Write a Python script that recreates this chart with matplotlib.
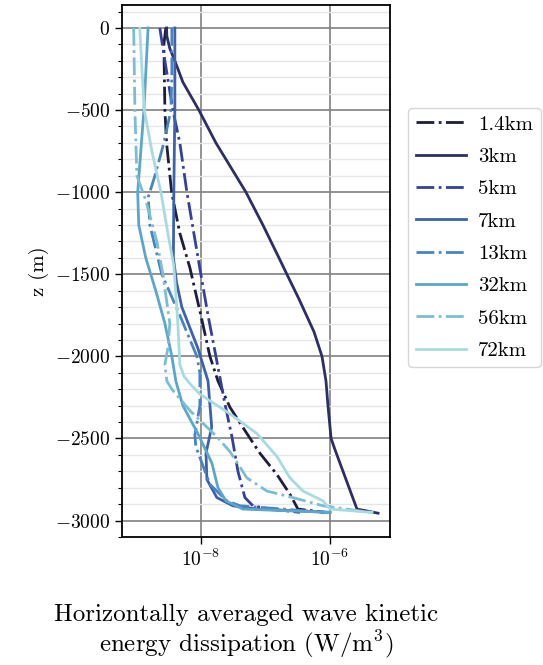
import matplotlib
matplotlib.use("Agg")
from matplotlib import pyplot as plt
from matplotlib.ticker import MultipleLocator, FixedLocator, NullLocator
import numpy as np

plt.rcParams['font.family'] = 'serif'
plt.rcParams['font.serif'] = ['cmr10']
plt.rcParams['mathtext.fontset'] = 'cm'
plt.rcParams['axes.formatter.use_mathtext'] = True
plt.rcParams['axes.unicode_minus'] = True

# horizontally averaged wave KE dissipation profiles (W/m^3) vs depth (m)
labels = ['1.4km', '3km', '5km', '7km', '13km', '32km', '56km', '72km']
colors = ['#1c1e3c', '#2c2f66', '#36409a', '#3c62ac',
          '#4884c0', '#5ba6cb', '#7bbed4', '#a8dbe0']
styles = ['-.', '-', '-.', '-', '-.', '-', '-.', '-']
xticks = [1e-8, 1e-6]

z_1p4 = [0, -100, -500, -700, -1000, -1250, -1460, -1750, -2000, -2150,
         -2310, -2470, -2590, -2720, -2840, -2930, -2950]
eps_1p4 = [2.86e-9, 2.67e-9, 2.77e-9, 2.94e-9, 3.52e-9, 4.72e-9, 6.75e-9,
           1.00e-8, 1.38e-8, 1.84e-8, 2.82e-8, 5.16e-8, 8.22e-8, 1.51e-7,
           2.40e-7, 3.19e-7, 8.36e-7]

z_3 = [0, -50, -125, -200, -330, -500, -700, -1000, -1200, -1400, -1500,
       -1650, -1850, -2000, -2150, -2300, -2500, -2570, -2700, -2930, -2955]
eps_3 = [2.94e-9, 2.97e-9, 3.30e-9, 3.95e-9, 5.26e-9, 9.31e-9, 1.71e-8,
         4.99e-8, 9.14e-8, 1.62e-7, 2.15e-7, 3.30e-7, 5.65e-7, 7.52e-7,
         8.67e-7, 9.31e-7, 1.04e-6, 1.20e-6, 1.59e-6, 2.62e-6, 5.55e-6]

z_5 = [0, -200, -500, -700, -1000, -1250, -1465, -1750, -2000, -2290,
       -2490, -2700, -2860, -2910, -2930, -2950]
eps_5 = [2.31e-9, 2.77e-9, 3.68e-9, 4.72e-9, 6.07e-9, 7.78e-9, 9.64e-9,
         1.29e-8, 1.71e-8, 2.36e-8, 3.03e-8, 3.75e-8, 4.81e-8, 6.40e-8,
         1.17e-7, 3.43e-7]

z_7 = [0, -500, -1000, -1400, -1550, -1700, -1950, -2150, -2430, -2590,
       -2750, -2860, -2910, -2930, -2950]
eps_7 = [3.95e-9, 3.95e-9, 3.81e-9, 3.75e-9, 4.20e-9, 5.07e-9, 8.97e-9,
         1.29e-8, 1.47e-8, 1.20e-8, 1.24e-8, 1.77e-8, 3.13e-8, 7.38e-8,
         1.00e-6]

z_13 = [0, -300, -500, -700, -900, -1030, -1200, -1500, -1750, -2000,
        -2100, -2300, -2480, -2550, -2650, -2780, -2880, -2910, -2950]
eps_13 = [3.55e-9, 3.55e-9, 3.43e-9, 2.67e-9, 1.94e-9, 1.53e-9, 1.62e-9,
          2.48e-9, 4.72e-9, 8.67e-9, 9.64e-9, 9.64e-9, 8.07e-9, 8.36e-9,
          1.04e-8, 1.38e-8, 2.53e-8, 4.03e-8, 8.36e-7]

z_32 = [0, -500, -1000, -1200, -1400, -1600, -1800, -2000, -2150, -2300,
        -2470, -2650, -2800, -2880, -2930, -2950]
eps_32 = [1.52e-9, 1.31e-9, 1.05e-9, 1.09e-9, 1.40e-9, 2.00e-9, 2.77e-9,
          3.55e-9, 4.09e-9, 5.26e-9, 8.97e-9, 1.48e-8, 1.84e-8, 2.44e-8,
          4.48e-8, 1.00e-6]

z_56 = [0, -500, -900, -1050, -1300, -1500, -1800, -1950, -2050, -2150,
        -2200, -2330, -2490, -2580, -2740, -2820, -2860, -2910, -2950]
eps_56 = [9.1e-10, 9.5e-10, 1.02e-9, 1.40e-9, 2.08e-9, 2.58e-9, 3.30e-9,
          3.08e-9, 2.77e-9, 2.97e-9, 3.55e-9, 6.75e-9, 1.77e-8, 2.82e-8,
          5.16e-8, 1.05e-7, 2.67e-7, 7.78e-7, 4.17e-6]

z_72 = [0, -250, -500, -750, -1000, -1250, -1450, -1800, -2050, -2120,
        -2170, -2230, -2350, -2470, -2610, -2740, -2820, -2880, -2930,
        -2950]
eps_72 = [1.13e-9, 1.22e-9, 1.33e-9, 1.74e-9, 2.40e-9, 3.08e-9, 3.81e-9,
          4.40e-9, 4.72e-9, 5.45e-9, 6.90e-9, 9.64e-9, 2.82e-8, 7.38e-8,
          1.51e-7, 2.40e-7, 3.81e-7, 7.78e-7, 1.00e-6, 4.48e-6]

profiles = [(eps_1p4, z_1p4), (eps_3, z_3), (eps_5, z_5), (eps_7, z_7),
            (eps_13, z_13), (eps_32, z_32), (eps_56, z_56), (eps_72, z_72)]

fig = plt.figure(figsize=(5.43, 6.65), dpi=100)
ax = fig.add_axes([0.2247, 0.1925, 0.4935, 0.8])

for (eps, z), lab, c, ls in zip(profiles, labels, colors, styles):
    ax.plot(eps, z, ls, color=c, lw=2, label=lab)

ax.set_xscale('log')
ax.set_xlim(6.0e-10, 8.5e-6)
ax.set_ylim(-3100, 140)
ax.xaxis.set_major_locator(FixedLocator(xticks))
ax.xaxis.set_minor_locator(NullLocator())
ax.yaxis.set_major_locator(MultipleLocator(500))
ax.yaxis.set_minor_locator(MultipleLocator(100))

ax.set_axisbelow(True)
ax.grid(which='major', color='#808080', lw=1.2)
ax.grid(which='minor', axis='y', color='#e6e6e6', lw=1.0)
ax.tick_params(which='major', labelsize=14, length=5, width=1)
ax.tick_params(which='minor', length=3, width=0.8)
for s in ax.spines.values():
    s.set_linewidth(1.3)

ax.set_ylabel('z (m)', fontsize=15)
ax.set_xlabel('Horizontally averaged wave kinetic\nenergy dissipation (W/m$^3$)',
              fontsize=18, linespacing=1.1)
ax.xaxis.set_label_coords(0.463, -0.125)

ax.legend(loc='center left', bbox_to_anchor=(1.03, 0.563), fontsize=15,
          handlelength=2.4, handletextpad=0.6, labelspacing=0.66,
          borderpad=0.35)

fig.savefig('out.png', dpi=100)
